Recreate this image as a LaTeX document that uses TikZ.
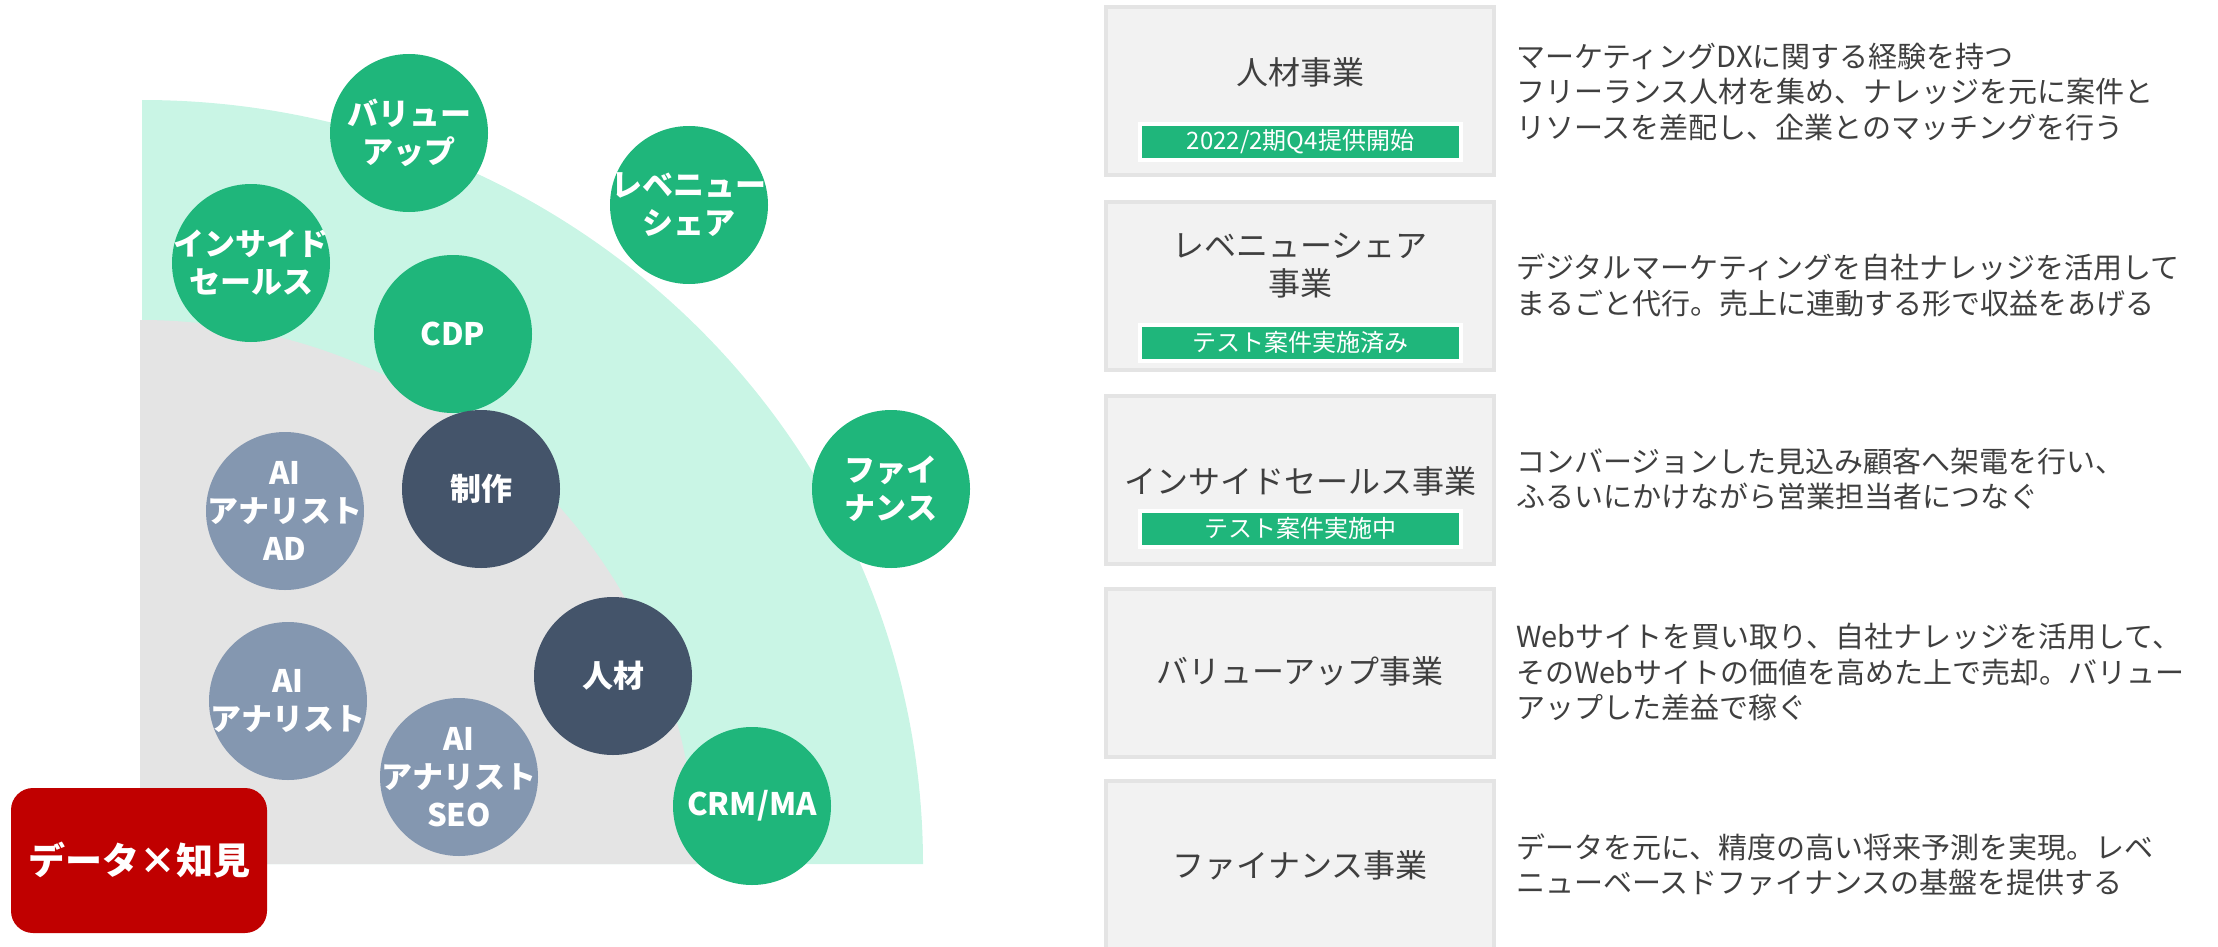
\documentclass[tikz,border=0pt]{standalone}
\usepackage{fontspec}
\setmainfont{Noto Sans CJK JP}
\definecolor{mint}{HTML}{C9F5E5}
\definecolor{grayzone}{HTML}{E4E4E4}
\definecolor{bubgreen}{HTML}{1FB67B}
\definecolor{bubdark}{HTML}{44546A}
\definecolor{bubblue}{HTML}{8497B0}
\definecolor{datared}{HTML}{C00000}
\definecolor{boxfill}{HTML}{F2F2F2}
\definecolor{boxline}{HTML}{E4E4E4}
\definecolor{txt}{HTML}{3F3F3F}
\tikzset{
  bub/.style={circle, minimum size=158pt, inner sep=0pt, draw=none},
  gbub/.style={bub, fill=bubgreen},
  dbub/.style={bub, fill=bubdark},
  lbub/.style={bub, fill=bubblue},
  btxt/.style={text=white, align=center, inner sep=0pt, font=\bfseries\fontsize{31}{38}\selectfont},
  bizbox/.style={rectangle, fill=boxfill, draw=boxline, line width=4pt, minimum width=388pt, minimum height=168pt, inner sep=0pt},
  title/.style={text=txt, align=center, inner sep=0pt, font=\fontsize{32}{38}\selectfont},
  tagbox/.style={rectangle, fill=bubgreen, draw=white, line width=4pt, minimum width=321pt, minimum height=36pt, inner sep=0pt, text=white, font=\fontsize{24}{28}\selectfont},
  desc/.style={anchor=west, text=txt, align=left, inner sep=0pt, font=\fontsize{29}{35.5}\selectfont},
}
\begin{document}
\begin{tikzpicture}[x=1pt,y=-1pt]
\useasboundingbox (0,0) rectangle (2218,947);
\clip (0,0) rectangle (2218,947);
% quadrants
\fill[mint] (142,864) -- (142,100) arc[start angle=-90, end angle=0, x radius=781, y radius=764] -- cycle;
\fill[grayzone] (140,864) -- (140,320) arc[start angle=-90, end angle=0, x radius=556, y radius=544] -- cycle;
% red box
\node[rectangle, rounded corners=22pt, fill=datared, minimum width=256pt, minimum height=145pt, inner sep=0pt,
      text=white, font=\bfseries\fontsize{37}{44}\selectfont] (data) at (139,860.5) {データ×知見};
% bubbles
\node[gbub] (vu) at (409,133) {};
\node[btxt] at (vu) {バリュー\\アップ};
\node[gbub] (rs) at (689,205) {};
\node[btxt] at (rs) {レベニュー\\シェア};
\node[gbub] (is) at (251,263) {};
\node[btxt] at (is) {インサイド\\セールス};
\node[gbub] (cdp) at (453,334) {};
\node[btxt] at (cdp) {CDP};
\node[gbub] (fin) at (891,489) {};
\node[btxt] at (fin) {ファイ\\ナンス};
\node[dbub] (sei) at (481,489) {};
\node[btxt] at (sei) {制作};
\node[lbub] (ad) at (285,511) {};
\node[btxt] at (ad) {AI\\アナリスト\\AD};
\node[lbub] (ai) at (288,701) {};
\node[btxt] at (ai) {AI\\アナリスト};
\node[dbub] (jin) at (613,676) {};
\node[btxt] at (jin) {人材};
\node[lbub] (seo) at (459,777) {};
\node[btxt] at (seo) {AI\\アナリスト\\SEO};
\node[gbub] (crm) at (752,806) {};
\node[btxt] at (crm) {CRM/MA};
% business boxes
\node[bizbox] (b1) at (1300,91) {};
\node[bizbox] (b2) at (1300,285.5) {};
\node[bizbox] (b3) at (1300,480) {};
\node[bizbox] (b4) at (1300,673) {};
\node[bizbox] (b5) at (1300,865) {};
\node[title] (t1) at (1300,72) {人材事業};
\node[title] (t2) at (1300,266) {レベニューシェア\\事業};
\node[title] (t3) at (1300,481) {インサイドセールス事業};
\node[title] (t4) at (1300,671) {バリューアップ事業};
\node[title] (t5) at (1300,865) {ファイナンス事業};
\node[tagbox] (g1) at (1300.5,142) {2022/2期Q4提供開始};
\node[tagbox] (g2) at (1300.5,342.5) {テスト案件実施済み};
\node[tagbox] (g3) at (1300.5,528.5) {テスト案件実施中};
% descriptions
\node[desc] (d1) at (1516,92) {マーケティングDXに関する経験を持つ\\フリーランス人材を集め、ナレッジを元に案件と\\リソースを差配し、企業とのマッチングを行う};
\node[desc] (d2) at (1516,285.5) {デジタルマーケティングを自社ナレッジを活用して\\まるごと代行。売上に連動する形で収益をあげる};
\node[desc] (d3) at (1516,479) {コンバージョンした見込み顧客へ架電を行い、\\ふるいにかけながら営業担当者につなぐ};
\node[desc] (d4) at (1516,672) {Webサイトを買い取り、自社ナレッジを活用して、\\そのWebサイトの価値を高めた上で売却。バリュー\\アップした差益で稼ぐ};
\node[desc] (d5) at (1516,865) {データを元に、精度の高い将来予測を実現。レベ\\ニューベースドファイナンスの基盤を提供する};
\end{tikzpicture}
\end{document}
